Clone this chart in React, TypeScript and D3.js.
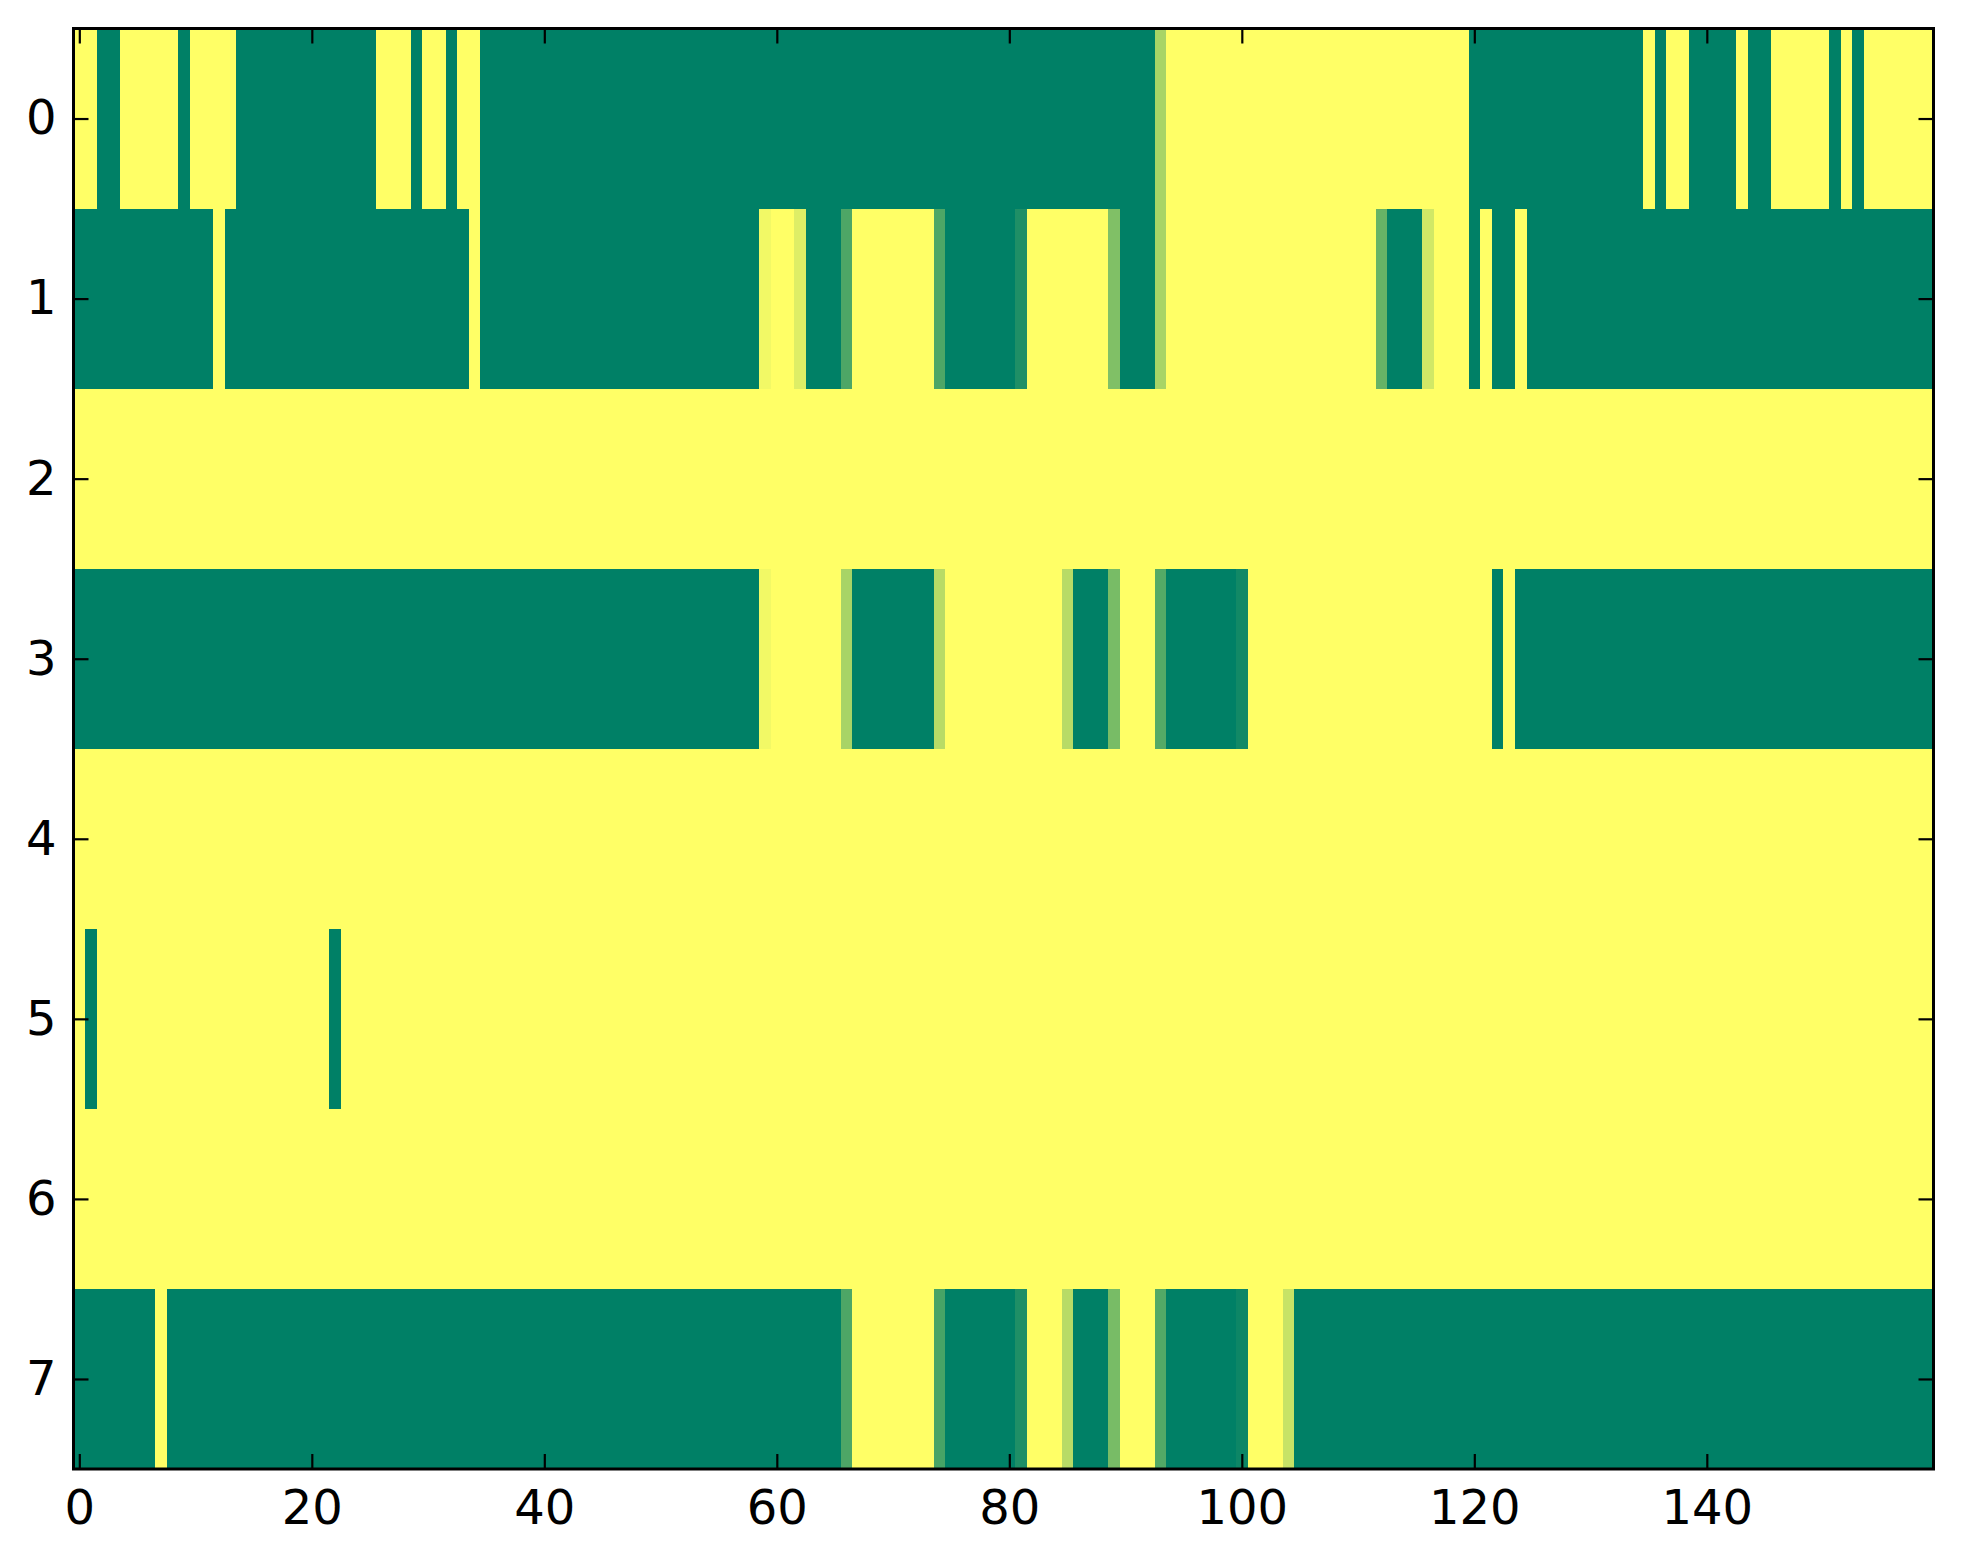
import { useEffect, useRef } from "react"
import * as d3 from "d3"

// one array per image row, 160 columns each (summer colormap, 0 = green, 1 = yellow)
const row0 = [
  1, 1, 0, 0, 1, 1, 1, 1, 1, 0, 1, 1, 1, 1, 0, 0, 0, 0, 0, 0,
  0, 0, 0, 0, 0, 0, 1, 1, 1, 0, 1, 1, 0, 1, 1, 0, 0, 0, 0, 0,
  0, 0, 0, 0, 0, 0, 0, 0, 0, 0, 0, 0, 0, 0, 0, 0, 0, 0, 0, 0,
  0, 0, 0, 0, 0, 0, 0, 0, 0, 0, 0, 0, 0, 0, 0, 0, 0, 0, 0, 0,
  0, 0, 0, 0, 0, 0, 0, 0, 0, 0, 0, 0, 0, 0.66, 1, 1, 1, 1, 1, 1,
  1, 1, 1, 1, 1, 1, 1, 1, 1, 1, 1, 1, 1, 1, 1, 1, 1, 1, 1, 1,
  0, 0, 0, 0, 0, 0, 0, 0, 0, 0, 0, 0, 0, 0, 0, 1, 0, 1, 1, 0,
  0, 0, 0, 1, 0, 0, 1, 1, 1, 1, 1, 0, 1, 0, 1, 1, 1, 1, 1, 1,
]

const row1 = [
  0, 0, 0, 0, 0, 0, 0, 0, 0, 0, 0, 0, 1, 0, 0, 0, 0, 0, 0, 0,
  0, 0, 0, 0, 0, 0, 0, 0, 0, 0, 0, 0, 0, 0, 1, 0, 0, 0, 0, 0,
  0, 0, 0, 0, 0, 0, 0, 0, 0, 0, 0, 0, 0, 0, 0, 0, 0, 0, 0, 0.95,
  1, 1, 0.87, 0, 0, 0, 0.3, 1, 1, 1, 1, 1, 1, 1, 0.3, 0, 0, 0, 0, 0,
  0, 0.12, 1, 1, 1, 1, 1, 1, 1, 0.5, 0, 0, 0, 0.66, 1, 1, 1, 1, 1, 1,
  1, 1, 1, 1, 1, 1, 1, 1, 1, 1, 1, 1, 0.4, 0, 0, 0, 0.82, 1, 1, 1,
  0, 1, 0, 0, 1, 0, 0, 0, 0, 0, 0, 0, 0, 0, 0, 0, 0, 0, 0, 0,
  0, 0, 0, 0, 0, 0, 0, 0, 0, 0, 0, 0, 0, 0, 0, 0, 0, 0, 0, 0,
]

const row2 = [
  1, 1, 1, 1, 1, 1, 1, 1, 1, 1, 1, 1, 1, 1, 1, 1, 1, 1, 1, 1,
  1, 1, 1, 1, 1, 1, 1, 1, 1, 1, 1, 1, 1, 1, 1, 1, 1, 1, 1, 1,
  1, 1, 1, 1, 1, 1, 1, 1, 1, 1, 1, 1, 1, 1, 1, 1, 1, 1, 1, 1,
  1, 1, 1, 1, 1, 1, 1, 1, 1, 1, 1, 1, 1, 1, 1, 1, 1, 1, 1, 1,
  1, 1, 1, 1, 1, 1, 1, 1, 1, 1, 1, 1, 1, 1, 1, 1, 1, 1, 1, 1,
  1, 1, 1, 1, 1, 1, 1, 1, 1, 1, 1, 1, 1, 1, 1, 1, 1, 1, 1, 1,
  1, 1, 1, 1, 1, 1, 1, 1, 1, 1, 1, 1, 1, 1, 1, 1, 1, 1, 1, 1,
  1, 1, 1, 1, 1, 1, 1, 1, 1, 1, 1, 1, 1, 1, 1, 1, 1, 1, 1, 1,
]

const row3 = [
  0, 0, 0, 0, 0, 0, 0, 0, 0, 0, 0, 0, 0, 0, 0, 0, 0, 0, 0, 0,
  0, 0, 0, 0, 0, 0, 0, 0, 0, 0, 0, 0, 0, 0, 0, 0, 0, 0, 0, 0,
  0, 0, 0, 0, 0, 0, 0, 0, 0, 0, 0, 0, 0, 0, 0, 0, 0, 0, 0, 0.95,
  1, 1, 1, 1, 1, 1, 0.66, 0, 0, 0, 0, 0, 0, 0, 0.72, 1, 1, 1, 1, 1,
  1, 1, 1, 1, 1, 0.72, 0, 0, 0, 0.47, 1, 1, 1, 0.33, 0, 0, 0, 0, 0, 0,
  0.07, 1, 1, 1, 1, 1, 1, 1, 1, 1, 1, 1, 1, 1, 1, 1, 1, 1, 1, 1,
  1, 1, 0, 1, 0, 0, 0, 0, 0, 0, 0, 0, 0, 0, 0, 0, 0, 0, 0, 0,
  0, 0, 0, 0, 0, 0, 0, 0, 0, 0, 0, 0, 0, 0, 0, 0, 0, 0, 0, 0,
]

const row4 = [
  1, 1, 1, 1, 1, 1, 1, 1, 1, 1, 1, 1, 1, 1, 1, 1, 1, 1, 1, 1,
  1, 1, 1, 1, 1, 1, 1, 1, 1, 1, 1, 1, 1, 1, 1, 1, 1, 1, 1, 1,
  1, 1, 1, 1, 1, 1, 1, 1, 1, 1, 1, 1, 1, 1, 1, 1, 1, 1, 1, 1,
  1, 1, 1, 1, 1, 1, 1, 1, 1, 1, 1, 1, 1, 1, 1, 1, 1, 1, 1, 1,
  1, 1, 1, 1, 1, 1, 1, 1, 1, 1, 1, 1, 1, 1, 1, 1, 1, 1, 1, 1,
  1, 1, 1, 1, 1, 1, 1, 1, 1, 1, 1, 1, 1, 1, 1, 1, 1, 1, 1, 1,
  1, 1, 1, 1, 1, 1, 1, 1, 1, 1, 1, 1, 1, 1, 1, 1, 1, 1, 1, 1,
  1, 1, 1, 1, 1, 1, 1, 1, 1, 1, 1, 1, 1, 1, 1, 1, 1, 1, 1, 1,
]

const row5 = [
  1, 0, 1, 1, 1, 1, 1, 1, 1, 1, 1, 1, 1, 1, 1, 1, 1, 1, 1, 1,
  1, 1, 0, 1, 1, 1, 1, 1, 1, 1, 1, 1, 1, 1, 1, 1, 1, 1, 1, 1,
  1, 1, 1, 1, 1, 1, 1, 1, 1, 1, 1, 1, 1, 1, 1, 1, 1, 1, 1, 1,
  1, 1, 1, 1, 1, 1, 1, 1, 1, 1, 1, 1, 1, 1, 1, 1, 1, 1, 1, 1,
  1, 1, 1, 1, 1, 1, 1, 1, 1, 1, 1, 1, 1, 1, 1, 1, 1, 1, 1, 1,
  1, 1, 1, 1, 1, 1, 1, 1, 1, 1, 1, 1, 1, 1, 1, 1, 1, 1, 1, 1,
  1, 1, 1, 1, 1, 1, 1, 1, 1, 1, 1, 1, 1, 1, 1, 1, 1, 1, 1, 1,
  1, 1, 1, 1, 1, 1, 1, 1, 1, 1, 1, 1, 1, 1, 1, 1, 1, 1, 1, 1,
]

const row6 = [
  1, 1, 1, 1, 1, 1, 1, 1, 1, 1, 1, 1, 1, 1, 1, 1, 1, 1, 1, 1,
  1, 1, 1, 1, 1, 1, 1, 1, 1, 1, 1, 1, 1, 1, 1, 1, 1, 1, 1, 1,
  1, 1, 1, 1, 1, 1, 1, 1, 1, 1, 1, 1, 1, 1, 1, 1, 1, 1, 1, 1,
  1, 1, 1, 1, 1, 1, 1, 1, 1, 1, 1, 1, 1, 1, 1, 1, 1, 1, 1, 1,
  1, 1, 1, 1, 1, 1, 1, 1, 1, 1, 1, 1, 1, 1, 1, 1, 1, 1, 1, 1,
  1, 1, 1, 1, 1, 1, 1, 1, 1, 1, 1, 1, 1, 1, 1, 1, 1, 1, 1, 1,
  1, 1, 1, 1, 1, 1, 1, 1, 1, 1, 1, 1, 1, 1, 1, 1, 1, 1, 1, 1,
  1, 1, 1, 1, 1, 1, 1, 1, 1, 1, 1, 1, 1, 1, 1, 1, 1, 1, 1, 1,
]

const row7 = [
  0, 0, 0, 0, 0, 0, 0, 1, 0, 0, 0, 0, 0, 0, 0, 0, 0, 0, 0, 0,
  0, 0, 0, 0, 0, 0, 0, 0, 0, 0, 0, 0, 0, 0, 0, 0, 0, 0, 0, 0,
  0, 0, 0, 0, 0, 0, 0, 0, 0, 0, 0, 0, 0, 0, 0, 0, 0, 0, 0, 0,
  0, 0, 0, 0, 0, 0, 0.3, 1, 1, 1, 1, 1, 1, 1, 0.28, 0, 0, 0, 0, 0,
  0, 0.12, 1, 1, 1, 0.72, 0, 0, 0, 0.47, 1, 1, 1, 0.32, 0, 0, 0, 0, 0, 0,
  0.05, 1, 1, 1, 0.78, 0, 0, 0, 0, 0, 0, 0, 0, 0, 0, 0, 0, 0, 0, 0,
  0, 0, 0, 0, 0, 0, 0, 0, 0, 0, 0, 0, 0, 0, 0, 0, 0, 0, 0, 0,
  0, 0, 0, 0, 0, 0, 0, 0, 0, 0, 0, 0, 0, 0, 0, 0, 0, 0, 0, 0,
]

const rows = [row0, row1, row2, row3, row4, row5, row6, row7]
const xTicks = [0, 20, 40, 60, 80, 100, 120, 140]
const yTicks = [0, 1, 2, 3, 4, 5, 6, 7]

const W = 1963
const H = 1564

export default function App() {
  const svgRef = useRef<SVGSVGElement>(null)

  useEffect(() => {
    if (!svgRef.current) return
    const svg = d3.select(svgRef.current)
    svg.selectAll("*").remove()

    const left = 73.5
    const right = 1933.5
    const top = 28.5
    const bottom = 1469
    const nCols = rows[0].length

    const x = d3.scaleLinear().domain([-0.5, nCols - 0.5]).range([left, right])
    const y = d3.scaleLinear().domain([-0.5, rows.length - 0.5]).range([top, bottom])
    // summer colormap is linear in RGB
    const color = d3.scaleLinear<string>().domain([0, 1]).range(["#008066", "#ffff66"]).interpolate(d3.interpolateRgb)

    const cells = rows.flatMap((r, ri) => r.map((v, ci) => ({ ri, ci, v })))

    svg.append("g")
      .selectAll("rect")
      .data(cells)
      .join("rect")
      .attr("x", (d) => x(d.ci - 0.5))
      .attr("y", (d) => y(d.ri - 0.5))
      .attr("width", (d) => x(d.ci + 0.5) - x(d.ci - 0.5) + 0.6)
      .attr("height", (d) => y(d.ri + 0.5) - y(d.ri - 0.5) + 0.6)
      .attr("fill", (d) => color(d.v))
      .attr("shape-rendering", "crispEdges")

    const font = "'DejaVu Sans', sans-serif"

    // 축 (ticks inside on all four sides)
    const gx = svg.append("g")
      .attr("transform", `translate(0,${bottom})`)
      .call(d3.axisBottom(x).tickValues(xTicks).tickSize(-15).tickPadding(21).tickFormat(d3.format("d")))
    const gxTop = svg.append("g")
      .attr("transform", `translate(0,${top})`)
      .call(d3.axisTop(x).tickValues(xTicks).tickSize(-15).tickFormat(() => ""))
    const gy = svg.append("g")
      .attr("transform", `translate(${left},0)`)
      .call(d3.axisLeft(y).tickValues(yTicks).tickSize(-15).tickPadding(17).tickFormat(d3.format("d")))
    const gyRight = svg.append("g")
      .attr("transform", `translate(${right},0)`)
      .call(d3.axisRight(y).tickValues(yTicks).tickSize(-15).tickFormat(() => ""))

    for (const g of [gx, gxTop, gy, gyRight]) {
      g.select(".domain").remove()
      g.selectAll(".tick line").attr("stroke", "#000").attr("stroke-width", 2.2)
      g.selectAll(".tick text")
        .attr("fill", "#000")
        .style("font-family", font)
        .style("font-size", "48px")
    }

    // frame
    svg.append("rect")
      .attr("x", left)
      .attr("y", top)
      .attr("width", right - left)
      .attr("height", bottom - top)
      .attr("fill", "none")
      .attr("stroke", "#000")
      .attr("stroke-width", 3)
  }, [])

  return (
    <svg
      ref={svgRef}
      width={W}
      height={H}
      style={{ position: "absolute", left: 0, top: 0, background: "#fff" }}
    />
  )
}
